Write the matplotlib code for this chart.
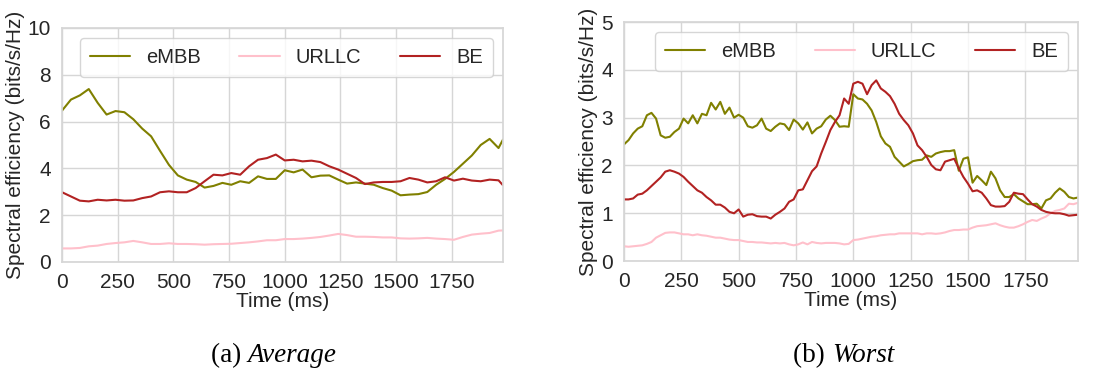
import numpy as np
import matplotlib
matplotlib.use("Agg")
import matplotlib.pyplot as plt
import seaborn as sns

# ------- DATA -------

series_names = ["eMBB", "URLLC", "BE"]
series_colors = ["olive", "pink", "firebrick"]

# (a) Average, sampled every 40 ms (last point at 1980 ms)
t_avg = list(range(0, 1961, 40)) + [1980]

embb_avg = [6.47, 6.94, 7.12, 7.39, 6.8, 6.3, 6.45, 6.4, 6.1, 5.7,
            5.37, 4.75, 4.15, 3.7, 3.52, 3.42, 3.18, 3.25, 3.38, 3.3,
            3.45, 3.38, 3.66, 3.55, 3.55, 3.92, 3.83, 3.95, 3.62, 3.69,
            3.7, 3.52, 3.35, 3.4, 3.35, 3.3, 3.16, 3.05, 2.85, 2.88,
            2.9, 2.99, 3.3, 3.55, 3.85, 4.2, 4.55, 5.0, 5.26, 4.87, 5.23]

urllc_avg = [0.58, 0.58, 0.6, 0.67, 0.7, 0.77, 0.81, 0.84, 0.9, 0.84,
             0.77, 0.77, 0.8, 0.77, 0.77, 0.76, 0.74, 0.76, 0.77, 0.78,
             0.81, 0.84, 0.88, 0.93, 0.93, 0.98, 0.98, 1.0, 1.03, 1.07,
             1.13, 1.2, 1.15, 1.08, 1.08, 1.07, 1.05, 1.05, 1.01, 1.0,
             1.01, 1.03, 1.0, 0.98, 0.95, 1.07, 1.17, 1.21, 1.24, 1.34, 1.35]

be_avg = [2.98, 2.8, 2.62, 2.59, 2.66, 2.63, 2.66, 2.62, 2.63, 2.73,
          2.8, 2.98, 3.02, 2.98, 2.98, 3.16, 3.45, 3.73, 3.7, 3.8,
          3.73, 4.09, 4.37, 4.44, 4.59, 4.34, 4.37, 4.3, 4.33, 4.27,
          4.09, 3.95, 3.77, 3.59, 3.33, 3.4, 3.42, 3.42, 3.45, 3.59,
          3.52, 3.4, 3.45, 3.62, 3.48, 3.56, 3.48, 3.45, 3.52, 3.49, 3.28]

# (b) Worst, sampled every 20 ms
t_worst = list(range(0, 1981, 20))

embb_worst = [2.44, 2.53, 2.67, 2.77, 2.82, 3.05, 3.1, 2.98, 2.63, 2.58,
              2.6, 2.7, 2.77, 2.98, 2.88, 3.05, 2.88, 3.08, 3.05, 3.31,
              3.17, 3.33, 3.08, 3.21, 3.0, 3.06, 3.0, 2.82, 2.79, 2.84,
              2.98, 2.77, 2.72, 2.81, 2.88, 2.86, 2.74, 2.96, 2.88, 2.75,
              2.9, 2.67, 2.77, 2.82, 2.96, 3.04, 2.95, 2.81, 2.82, 2.81,
              3.49, 3.4, 3.38, 3.29, 3.15, 2.91, 2.61, 2.46, 2.39, 2.18,
              2.08, 1.98, 2.03, 2.09, 2.11, 2.12, 2.21, 2.18, 2.25, 2.28,
              2.3, 2.3, 2.32, 1.89, 2.14, 2.17, 1.64, 1.78, 1.69, 1.59,
              1.87, 1.73, 1.48, 1.34, 1.34, 1.4, 1.31, 1.25, 1.19, 1.19,
              1.2, 1.1, 1.27, 1.31, 1.43, 1.52, 1.45, 1.34, 1.31, 1.33]

urllc_worst = [0.31, 0.3, 0.31, 0.32, 0.33, 0.36, 0.4, 0.49, 0.54, 0.59,
               0.6, 0.6, 0.58, 0.56, 0.56, 0.54, 0.56, 0.54, 0.53, 0.51,
               0.49, 0.49, 0.47, 0.45, 0.44, 0.44, 0.42, 0.4, 0.4, 0.39,
               0.39, 0.38, 0.37, 0.38, 0.37, 0.38, 0.35, 0.33, 0.35, 0.39,
               0.35, 0.4, 0.38, 0.37, 0.38, 0.38, 0.38, 0.37, 0.35, 0.36,
               0.44, 0.45, 0.47, 0.49, 0.51, 0.52, 0.54, 0.55, 0.56, 0.56,
               0.58, 0.58, 0.58, 0.58, 0.58, 0.56, 0.58, 0.58, 0.57, 0.58,
               0.6, 0.63, 0.65, 0.65, 0.66, 0.66, 0.7, 0.73, 0.74, 0.75,
               0.77, 0.79, 0.75, 0.72, 0.7, 0.7, 0.73, 0.77, 0.82, 0.86,
               0.84, 0.89, 0.93, 1.0, 1.05, 1.07, 1.1, 1.2, 1.19, 1.22]

be_worst = [1.29, 1.29, 1.31, 1.39, 1.41, 1.48, 1.57, 1.66, 1.75, 1.87,
            1.9, 1.87, 1.83, 1.76, 1.66, 1.57, 1.48, 1.43, 1.34, 1.27,
            1.18, 1.18, 1.12, 1.03, 1.0, 1.08, 0.93, 0.97, 0.98, 0.94,
            0.93, 0.93, 0.89, 0.97, 1.03, 1.1, 1.24, 1.29, 1.48, 1.5,
            1.69, 1.88, 1.98, 2.25, 2.49, 2.74, 2.91, 3.05, 3.4, 3.29,
            3.71, 3.75, 3.71, 3.49, 3.68, 3.78, 3.61, 3.54, 3.45, 3.29,
            3.08, 2.95, 2.84, 2.67, 2.42, 2.32, 2.18, 2.01, 1.92, 1.9,
            2.08, 2.11, 2.14, 1.94, 1.76, 1.62, 1.46, 1.48, 1.43, 1.31,
            1.17, 1.14, 1.14, 1.15, 1.24, 1.43, 1.41, 1.4, 1.29, 1.19,
            1.14, 1.07, 1.03, 1.01, 1.0, 1.0, 0.98, 0.95, 0.96, 0.97]

x_ticks = [0, 250, 500, 750, 1000, 1250, 1500, 1750]

# ------- STYLE -------

sns.set_theme(style="whitegrid")
plt.rcParams['font.family'] = ['Liberation Sans', 'DejaVu Sans']
plt.rcParams['axes.edgecolor'] = '#d6d6d6'
plt.rcParams['grid.color'] = '#d6d6d6'
plt.rcParams['text.color'] = '#262626'

fs = 15

fig = plt.figure(figsize=(11.16, 3.73), dpi=100)
ax1 = fig.add_axes([0.0556, 0.2976, 0.3951, 0.6274])
ax2 = fig.add_axes([0.5591, 0.300, 0.4069, 0.641])

panels = [
    (ax1, t_avg, [embb_avg, urllc_avg, be_avg], 10, [0, 2, 4, 6, 8, 10]),
    (ax2, t_worst, [embb_worst, urllc_worst, be_worst], 5, [0, 1, 2, 3, 4, 5]),
]

for ax, t, data, ymax, yt in panels:
    for name, col, vals in zip(series_names, series_colors, data):
        ax.plot(t, vals, color=col, lw=1.5, label=name)
    ax.set_xlim(0, 1980)
    ax.set_ylim(0, ymax)
    ax.set_xticks(x_ticks)
    ax.set_yticks(yt)
    ax.tick_params(labelsize=fs, pad=2, colors='#262626')
    ax.set_xlabel("Time (ms)", fontsize=fs, labelpad=0, color='#262626')
    ax.set_ylabel("Spectral efficiency (bits/s/Hz)", fontsize=fs, labelpad=2, color='#262626')
    ax.legend(loc='upper right', ncol=3, fontsize=14.5, handlelength=2.0,
              handletextpad=0.8, columnspacing=1.9, borderaxespad=0.5,
              borderpad=0.5, framealpha=0.8)

cap = dict(fontsize=19.5, family='Liberation Serif', color='black')
fig.text(0.222, 0.03, "(a) ", ha='right', **cap)
fig.text(0.222, 0.03, "Average", ha='left', style='italic', **cap)
fig.text(0.7455, 0.03, "(b) ", ha='right', **cap)
fig.text(0.7455, 0.03, "Worst", ha='left', style='italic', **cap)

fig.savefig("out.png", dpi=100)
